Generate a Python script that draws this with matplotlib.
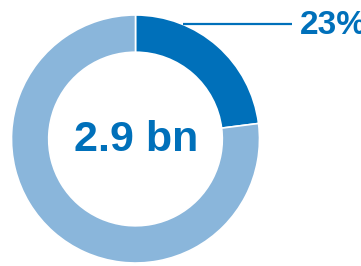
import matplotlib.pyplot as plt
import numpy as np

plt.rcParams['font.family'] = ['Liberation Sans', 'DejaVu Sans']

shares = [23, 77]
colors = ['#0070BA', '#8AB6DB']
share_label = '23%'
total_label = '2.9 bn'

fig = plt.figure(figsize=(3.61, 2.66), dpi=100)
ax = fig.add_axes([0, 0, 1, 1])
ax.set_xlim(0, 361)
ax.set_ylim(0, 266)
ax.set_aspect('equal')
ax.axis('off')

cx, cy, r = 135.5, 127, 124
wedges, _ = ax.pie(shares, colors=colors, startangle=90, counterclock=False,
                   center=(cx, cy), radius=r,
                   wedgeprops=dict(width=r * 0.3, edgecolor='white', linewidth=1.2))
ax.set_xlim(0, 361)
ax.set_ylim(0, 266)

# leader line from the dark slice to its label
ang = np.deg2rad(67.5)
x0, y0 = cx + r * np.cos(ang), cy + r * np.sin(ang)
ax.plot([x0, 292], [y0, y0], color=colors[0], lw=1.6, solid_capstyle='butt')
ax.text(300, y0 - 1, share_label, ha='left', va='center', fontsize=24,
        fontweight='bold', color=colors[0])

ax.text(cx + 1, cy - 1, total_label, ha='center', va='center', fontsize=31,
        fontweight='bold', color=colors[0])

fig.savefig('out.png', dpi=100)
